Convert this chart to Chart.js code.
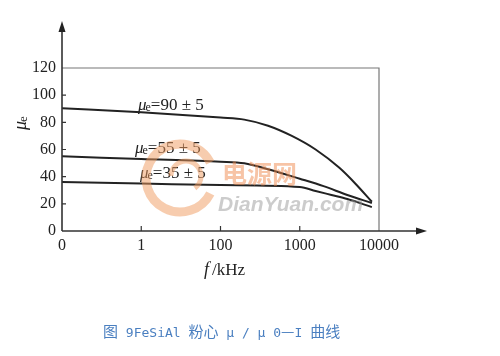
<!DOCTYPE html>
<html><head><meta charset="utf-8">
<script src="https://cdn.jsdelivr.net/npm/chart.js@4.4.1/dist/chart.umd.min.js"></script>
<style>
html,body{margin:0;padding:0;background:#fff;}
#wrap{position:relative;width:500px;height:356px;}
#caption{position:absolute;left:103px;top:322px;font-size:15px;line-height:18px;color:#4a7fc0;white-space:nowrap;}
#caption .c{font-family:"Noto Sans CJK SC",sans-serif;font-size:15px;}
#caption .l{font-family:"DejaVu Sans Mono","Liberation Mono",monospace;font-size:13px;}
</style></head>
<body>
<div id="wrap"><canvas id="c" width="500" height="356"></canvas>
<div id="caption"><span class="c">图</span><span class="l"> 9FeSiAl </span><span class="c">粉心</span><span class="l"> μ / μ 0</span><span class="c">—</span><span class="l">I </span><span class="c">曲线</span></div></div>
<script>
const tickLabels = ['0','1','100','1000','10000'];
const yTicks = [0,20,40,60,80,100,120];
const seriesNames = ['90 ± 5','55 ± 5','35 ± 5'];
const x90 = [0, 1, 2, 2.3, 2.6, 2.9, 3.2, 3.5, 3.7, 3.91];
const y90 = [90.4, 87.5, 83.5, 82, 77.5, 70, 60, 46.5, 35, 21.5];
const x55 = [0, 1, 2, 2.3, 2.6, 3.0, 3.3, 3.6, 3.91];
const y55 = [55, 53, 51, 49.8, 45.5, 38.5, 33, 26.5, 20.6];
const x35 = [0, 1, 2, 3.0, 3.2, 3.4, 3.6, 3.91];
const y35 = [36, 35, 33.8, 32.4, 29.5, 26.5, 23.5, 17.6];

function pts(xs, ys){ return xs.map((x,i)=>({x:x, y:ys[i]})); }

const serif = '"Liberation Serif","DejaVu Serif",serif';

function drawMuLabel(ctx, x, y, rest, size){
  ctx.save();
  ctx.fillStyle = '#222';
  ctx.textBaseline = 'alphabetic';
  ctx.textAlign = 'left';
  ctx.font = 'italic ' + size + 'px ' + serif;
  ctx.fillText('μ', x, y);
  let w = ctx.measureText('μ').width;
  ctx.font = Math.round(size*0.72) + 'px ' + serif;
  ctx.fillText('e', x + w - 1, y + 1);
  w += ctx.measureText('e').width - 1;
  if (rest){
    ctx.font = size + 'px ' + serif;
    ctx.fillText(rest, x + w, y);
  }
  ctx.restore();
}

const deco = {
  id: 'deco',
  afterDatasetsDraw(chart){
    const ctx = chart.ctx;
    const a = chart.chartArea;
    const xs = chart.scales.x, ys = chart.scales.y;
    const x0 = a.left, y0 = a.bottom;
    ctx.save();
    // box top/right
    ctx.strokeStyle = '#777';
    ctx.lineWidth = 1.2;
    ctx.beginPath();
    ctx.moveTo(x0, a.top); ctx.lineTo(a.right, a.top); ctx.lineTo(a.right, y0);
    ctx.stroke();
    // axes
    ctx.strokeStyle = '#333';
    ctx.lineWidth = 1.6;
    ctx.beginPath();
    ctx.moveTo(x0, y0); ctx.lineTo(x0, 28);
    ctx.moveTo(x0, y0); ctx.lineTo(420, y0);
    ctx.stroke();
    ctx.fillStyle = '#222';
    ctx.beginPath();
    ctx.moveTo(x0, 21); ctx.lineTo(x0-3.5, 32); ctx.lineTo(x0+3.5, 32); ctx.closePath(); ctx.fill();
    ctx.beginPath();
    ctx.moveTo(427, y0); ctx.lineTo(416, y0-3.5); ctx.lineTo(416, y0+3.5); ctx.closePath(); ctx.fill();
    // ticks
    ctx.lineWidth = 1.2;
    ctx.beginPath();
    yTicks.forEach(v=>{ if(v>0 && v<120){ const py = ys.getPixelForValue(v); ctx.moveTo(x0, py); ctx.lineTo(x0+4, py);} });
    [1,2,3].forEach(v=>{ const px = xs.getPixelForValue(v); ctx.moveTo(px, y0); ctx.lineTo(px, y0-5); });
    ctx.stroke();
    // series labels
    drawMuLabel(ctx, 138, 110, '=' + seriesNames[0], 17);
    drawMuLabel(ctx, 135, 153, '=' + seriesNames[1], 17);
    drawMuLabel(ctx, 140, 178, '=' + seriesNames[2], 17);
    // y title
    ctx.save();
    ctx.translate(26, 130);
    ctx.rotate(-Math.PI/2);
    drawMuLabel(ctx, 0, 0, '', 18);
    ctx.restore();
    // x title
    ctx.font = 'italic 18px ' + serif;
    ctx.fillStyle = '#222';
    ctx.textAlign = 'left';
    ctx.fillText('f', 204, 275);
    const fw = ctx.measureText('f').width;
    ctx.font = '17px ' + serif;
    ctx.fillText('/kHz', 204 + fw + 3, 275);
    // watermark
    ctx.globalAlpha = 0.5;
    ctx.strokeStyle = '#ef9a5e';
    ctx.lineWidth = 9;
    ctx.beginPath();
    ctx.arc(180, 178, 34, Math.PI*0.15, Math.PI*1.85);
    ctx.stroke();
    ctx.lineWidth = 5;
    ctx.beginPath();
    ctx.arc(186, 176, 15, Math.PI*1.0, Math.PI*2.3);
    ctx.stroke();
    ctx.fillStyle = '#ef8a4e';
    ctx.font = 'bold 25px "Noto Sans CJK SC",sans-serif';
    ctx.fillText('电源网', 222, 183);
    ctx.fillStyle = '#999';
    ctx.font = 'italic bold 21px "Liberation Sans",Arial,sans-serif';
    ctx.fillText('DianYuan.com', 218, 211);
    ctx.restore();
  }
};

new Chart(document.getElementById('c'), {
  type: 'line',
  data: {
    datasets: [
      {data: pts(x90, y90)},
      {data: pts(x55, y55)},
      {data: pts(x35, y35)}
    ].map(d=>Object.assign(d, {borderColor:'#222', borderWidth:2, pointRadius:0, fill:false, cubicInterpolationMode:'monotone'}))
  },
  options: {
    responsive: false,
    animation: false,
    layout: {padding: {left:0, top:68, right:121, bottom:0}},
    plugins: {legend:{display:false}, tooltip:{enabled:false}},
    scales: {
      x: {
        type: 'linear', min: 0, max: 4,
        grid: {display:false, drawTicks:false},
        border: {display:false},
        afterFit(s){ s.height = 125; },
        afterBuildTicks(s){ s.ticks = tickLabels.map((t,i)=>({value:i})); },
        ticks: {padding: 5, color:'#222', font:{family:serif, size:16}, callback:(v)=>tickLabels[v]}
      },
      y: {
        min: 0, max: 120,
        grid: {display:false, drawTicks:false},
        border: {display:false},
        afterFit(s){ s.width = 62; },
        afterBuildTicks(s){ s.ticks = yTicks.map(v=>({value:v})); },
        ticks: {padding: 6, color:'#222', font:{family:serif, size:16}}
      }
    }
  },
  plugins: [deco]
});
</script>
</body></html>
